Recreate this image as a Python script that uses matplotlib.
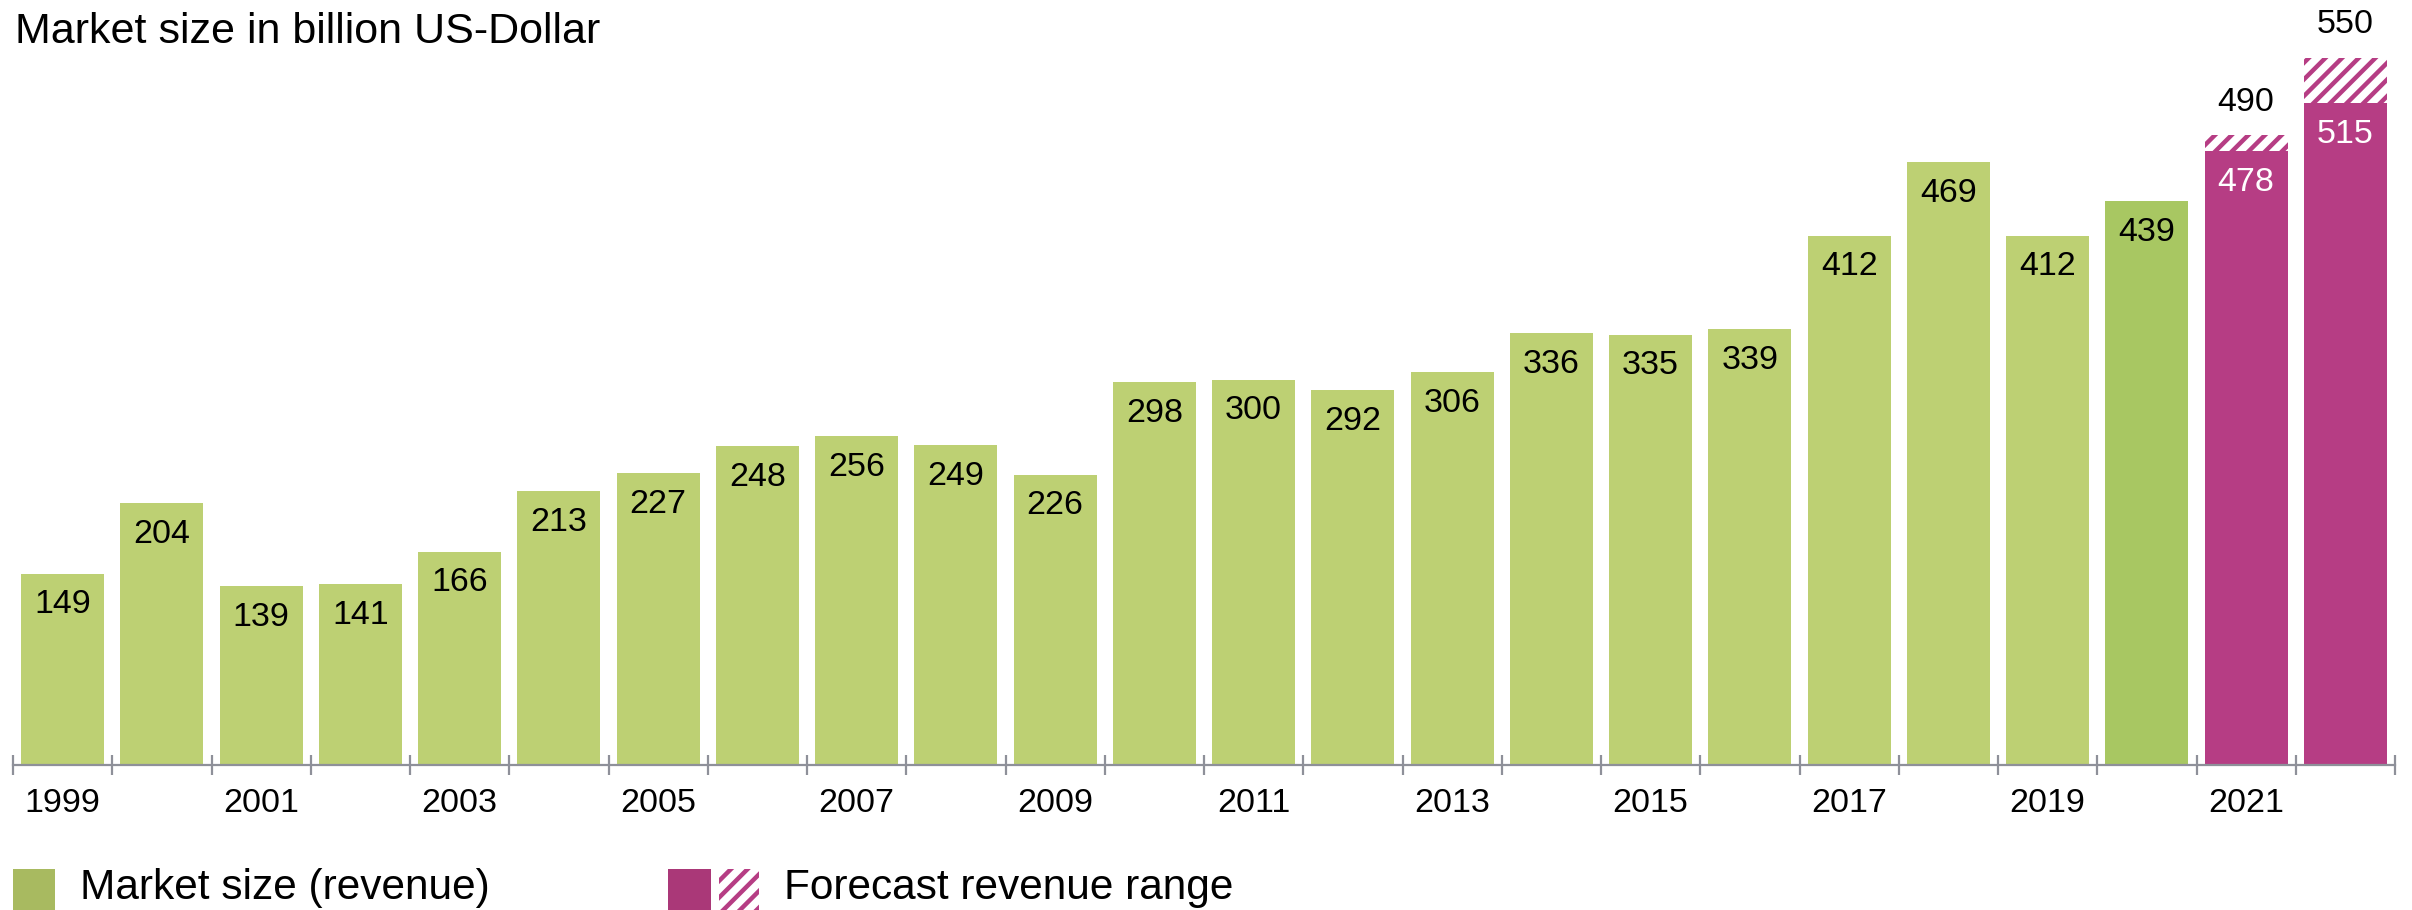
import matplotlib
matplotlib.use("Agg")
import matplotlib.pyplot as plt
from matplotlib.patches import Rectangle
from matplotlib.transforms import blended_transform_factory

# ---- data ----
years = list(range(1999, 2023))
revenue = [149, 204, 139, 141, 166, 213, 227, 248, 256, 249, 226, 298,
           300, 292, 306, 336, 335, 339, 412, 469, 412, 439, 478, 515]
forecast_years = [2021, 2022]
forecast_high = [490, 550]
highlight_year = 2020
title = "Market size in billion US-Dollar"
legend_labels = ["Market size (revenue)", "Forecast revenue range"]

# ---- style ----
GREEN = "#BDD073"
GREEN_DARK = "#A8C762"
MAGENTA = "#B63D84"
LEG_GREEN = "#A8BA60"
LEG_MAG = "#AA3878"
AXIS = "#8E9099"
FONT = ["Liberation Sans", "DejaVu Sans"]
plt.rcParams["font.family"] = FONT
plt.rcParams["hatch.linewidth"] = 3.2
plt.rcParams["hatch.color"] = MAGENTA
LBL = 24.5

W, H = 2412, 910
fig = plt.figure(figsize=(W / 100, H / 100), dpi=100)
ax = fig.add_axes([13 / W, (H - 765) / H, 2382 / W, 719.6 / H])

x = list(range(len(years)))
colors = []
for yr in years:
    if yr in forecast_years:
        colors.append(MAGENTA)
    elif yr == highlight_year:
        colors.append(GREEN_DARK)
    else:
        colors.append(GREEN)

bw = 0.836
ax.bar(x, revenue, width=bw, color=colors, linewidth=0, zorder=2)

# hatched forecast range
for fy, hi in zip(forecast_years, forecast_high):
    i = years.index(fy)
    base = revenue[i]
    ax.bar(i, hi - base, bottom=base, width=bw, color="white",
           edgecolor=MAGENTA, hatch="//", linewidth=0, zorder=2)
    ax.annotate(str(hi), (i, hi), xytext=(0, 24), textcoords="offset points",
                ha="center", va="center", fontsize=LBL, color="black")

# value labels
for i, (yr, v) in enumerate(zip(years, revenue)):
    c = "white" if yr in forecast_years else "black"
    ax.annotate(str(v), (i, v), xytext=(0, -22.5), textcoords="offset points",
                ha="center", va="center", fontsize=LBL, color=c, zorder=3)

ax.set_xlim(-0.5, len(years) - 0.5)
ax.set_ylim(0, 560)
for s in ["top", "right", "left"]:
    ax.spines[s].set_visible(False)
ax.spines["bottom"].set_color(AXIS)
ax.spines["bottom"].set_linewidth(1.6)
ax.spines["bottom"].set_zorder(3)
ax.set_yticks([])
ax.set_xticks([i - 0.5 for i in range(len(years) + 1)])
ax.set_xticklabels([])
ax.tick_params(axis="x", direction="inout", length=14, width=1.6, color=AXIS)

trans = blended_transform_factory(ax.transData, ax.transAxes)
for i, yr in enumerate(years):
    if yr % 2 == 1:
        ax.text(i, -39 / 719.6, str(yr), transform=trans, ha="center",
                va="center", fontsize=LBL, color="black")

# title
fig.text(15 / W, 1 - 43 / H, title, fontsize=31, ha="left", va="baseline")

# legend (manual)
def fig_rect(x0, y0, x1, y1, **kw):
    r = Rectangle((x0 / W, 1 - y1 / H), (x1 - x0) / W, (y1 - y0) / H,
                  transform=fig.transFigure, **kw)
    fig.patches.append(r)

fig_rect(13, 869, 55, 910, facecolor=LEG_GREEN, linewidth=0)
fig_rect(668, 869, 711, 910, facecolor=LEG_MAG, linewidth=0)
fig_rect(719, 869, 759, 910, facecolor="white", edgecolor=MAGENTA,
         hatch="//", linewidth=0)
fig.text(80 / W, 1 - 899 / H, legend_labels[0], fontsize=30.5, va="baseline")
fig.text(784 / W, 1 - 899 / H, legend_labels[1], fontsize=30.5, va="baseline")

fig.savefig("out.png", dpi=100)
